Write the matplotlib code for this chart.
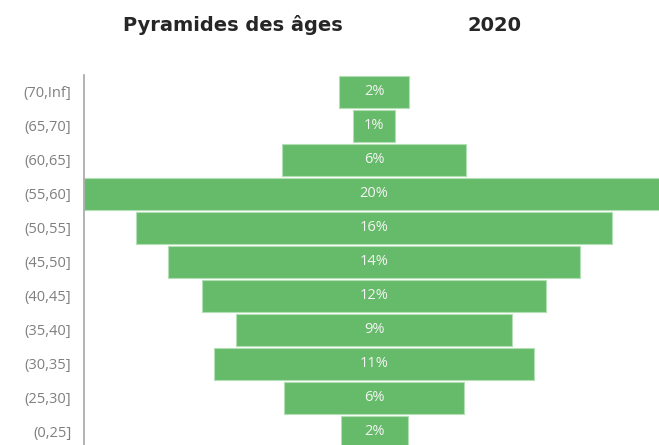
import matplotlib
matplotlib.use("Agg")
import matplotlib.pyplot as plt

# age groups, top to bottom
age_groups = ["(70,Inf]", "(65,70]", "(60,65]", "(55,60]", "(50,55]", "(45,50]",
              "(40,45]", "(35,40]", "(30,35]", "(25,30]", "(0,25]"]
# share of population in percent
shares = [2.36, 1.40, 6.23, 19.68, 16.16, 13.99, 11.64, 9.35, 10.87, 6.13, 2.27]

bar_color = "#66bb6a"
edge_color = "#b2dfb4"

fig = plt.figure(figsize=(6.59, 4.45), dpi=100)
W, H = 659, 445
ax_left = 83.7 / W
ax = fig.add_axes([ax_left, 0, 1 - ax_left, 370 / H])

ypos = list(range(len(age_groups)))
lefts = [-v / 2 for v in shares]
ax.barh(ypos, shares, left=lefts, height=0.93, color=bar_color,
        edgecolor=edge_color, linewidth=0.8)

for y, v in zip(ypos, shares):
    ax.text(0, y, f"{v:.0f}%", ha="center", va="center", color="#f4f4f4",
            fontsize=10.5, family="Open Sans")

k = 29.5  # pixels per percent
ax.set_xlim(-(374.05 - 83.7) / k, (659 - 374.05) / k)
ax.set_ylim(10.385, -0.5)

ax.set_yticks(ypos)
ax.set_yticklabels(age_groups, fontsize=10.5, color="#7f7f7f", family="Open Sans")
ax.tick_params(axis="y", length=0, pad=9)
ax.set_xticks([])
for s in ["top", "right", "bottom"]:
    ax.spines[s].set_visible(False)
ax.spines["left"].set_color("#a6a6a6")
ax.spines["left"].set_linewidth(1.2)

fig.text(233 / W, 1 - 31 / H, "Pyramides des âges", ha="center", va="baseline",
         fontsize=14, fontweight="bold", color="#262626")
fig.text(494.3 / W, 1 - 31 / H, "2020", ha="center", va="baseline",
         fontsize=14, fontweight="bold", color="#262626")

fig.savefig("out.png", dpi=100)
